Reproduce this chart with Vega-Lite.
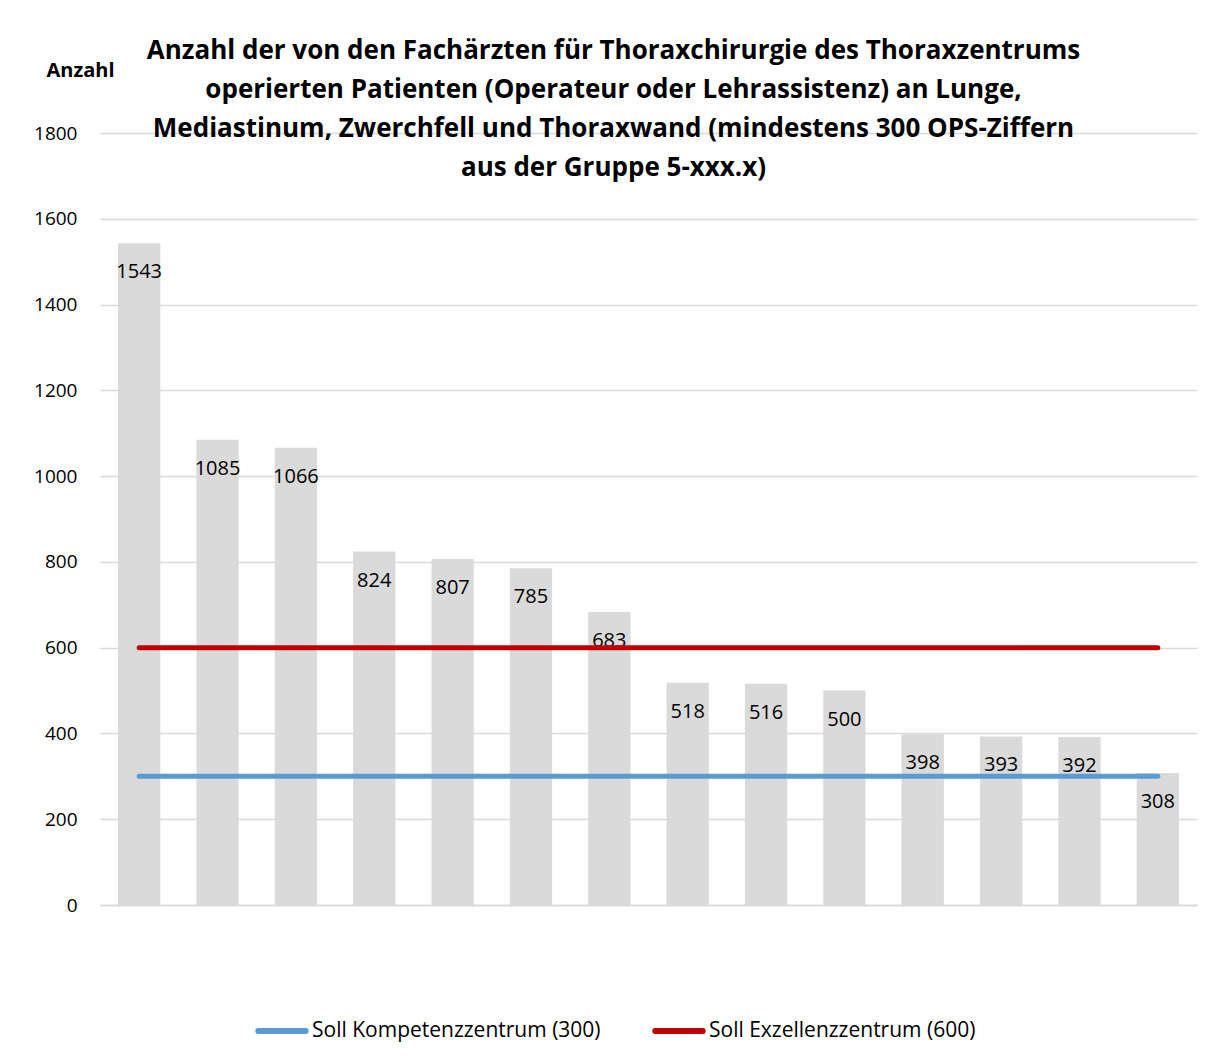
{
  "$schema": "https://vega.github.io/schema/vega-lite/v6.json",
  "width": 1097,
  "height": 772,
  "autosize": {"type": "none"},
  "padding": {"left": 100, "top": 133, "right": 10, "bottom": 156},
  "background": "white",
  "config": {"view": {"stroke": null}, "font": "Open Sans"},
  "title": {
    "text": [
      "Anzahl der von den Fachärzten für Thoraxchirurgie des Thoraxzentrums",
      "operierten Patienten (Operateur oder Lehrassistenz) an Lunge,",
      "Mediastinum, Zwerchfell und Thoraxwand (mindestens 300 OPS-Ziffern",
      "aus der Gruppe 5-xxx.x)"
    ],
    "fontSize": 26,
    "fontWeight": "bold",
    "font": "Open Sans",
    "color": "#000000",
    "lineHeight": 39,
    "anchor": "middle",
    "frame": "group",
    "dx": -35,
    "offset": -121
  },
  "datasets": {
    "bars": [
      {"rank": 1, "value": 1543},
      {"rank": 2, "value": 1085},
      {"rank": 3, "value": 1066},
      {"rank": 4, "value": 824},
      {"rank": 5, "value": 807},
      {"rank": 6, "value": 785},
      {"rank": 7, "value": 683},
      {"rank": 8, "value": 518},
      {"rank": 9, "value": 516},
      {"rank": 10, "value": 500},
      {"rank": 11, "value": 398},
      {"rank": 12, "value": 393},
      {"rank": 13, "value": 392},
      {"rank": 14, "value": 308}
    ],
    "lines": [
      {"rank": 1, "value": 300, "series": "Soll Kompetenzzentrum (300)"},
      {"rank": 14, "value": 300, "series": "Soll Kompetenzzentrum (300)"},
      {"rank": 1, "value": 600, "series": "Soll Exzellenzzentrum (600)"},
      {"rank": 14, "value": 600, "series": "Soll Exzellenzzentrum (600)"}
    ]
  },
  "layer": [
    {
      "data": {"name": "bars"},
      "mark": {"type": "bar", "color": "#dadada"},
      "encoding": {
        "x": {
          "field": "rank",
          "type": "ordinal",
          "scale": {"paddingInner": 0.46, "paddingOuter": 0.23},
          "axis": {"title": null, "labels": false, "ticks": false, "domain": true, "domainColor": "#d9d9d9", "domainWidth": 1.5, "grid": false}
        },
        "y": {
          "field": "value",
          "type": "quantitative",
          "scale": {"domain": [0, 1800]},
          "axis": {
            "title": "Anzahl",
            "titleAngle": 0,
            "titleFontSize": 20,
            "titleFontWeight": "bold",
            "titleFont": "Open Sans",
            "titleColor": "#000000",
            "titleX": -20,
            "titleY": -63,
            "titleAlign": "center",
            "titleBaseline": "middle",
            "labelFontSize": 19,
            "labelFont": "Open Sans",
            "labelColor": "#000000",
            "labelPadding": 23,
            "format": "d",
            "ticks": false,
            "domain": false,
            "gridColor": "#d9d9d9",
            "gridWidth": 1.5,
            "values": [0, 200, 400, 600, 800, 1000, 1200, 1400, 1600, 1800]
          }
        }
      }
    },
    {
      "data": {"name": "bars"},
      "mark": {"type": "text", "baseline": "middle", "dy": 29, "fontSize": 20, "font": "Open Sans", "color": "#000000"},
      "encoding": {
        "x": {"field": "rank", "type": "ordinal"},
        "y": {"field": "value", "type": "quantitative"},
        "text": {"field": "value", "type": "quantitative", "format": "d"}
      }
    },
    {
      "data": {"name": "lines"},
      "mark": {"type": "line", "strokeWidth": 5, "strokeCap": "round"},
      "encoding": {
        "x": {"field": "rank", "type": "ordinal"},
        "y": {"field": "value", "type": "quantitative"},
        "color": {
          "field": "series",
          "type": "nominal",
          "scale": {"domain": ["Soll Kompetenzzentrum (300)", "Soll Exzellenzzentrum (600)"], "range": ["#5b9bd5", "#c00000"]},
          "legend": {
            "title": null,
            "orient": "none",
            "legendX": 155,
            "legendY": 871,
            "direction": "horizontal",
            "symbolType": "stroke",
            "symbolSize": 2250,
            "symbolStrokeWidth": 6,
            "labelFontSize": 21,
            "labelFont": "Open Sans",
            "labelOffset": 3,
            "labelColor": "#000000",
            "labelLimit": 400,
            "columnPadding": 42,
            "encode": {"symbols": {"update": {"strokeCap": {"value": "round"}}}}
          }
        }
      }
    }
  ]
}
